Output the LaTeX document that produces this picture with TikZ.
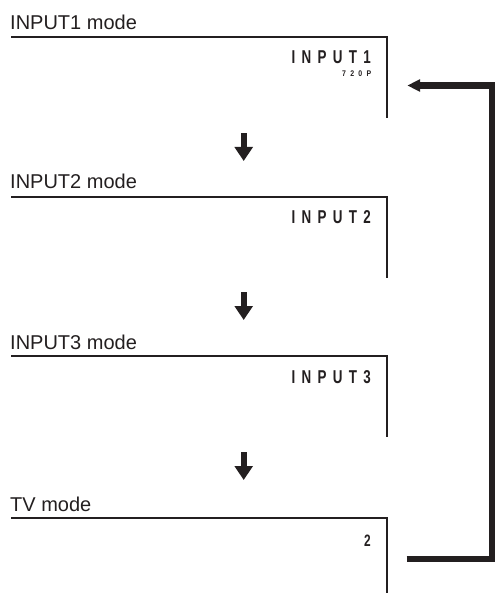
\documentclass[tikz,border=0pt]{standalone}
\usepackage{fontspec}
\setmainfont{Liberation Sans}
\newfontfamily\dispfont{Liberation Sans}[FakeStretch=0.72,LetterSpace=34]
\newfontfamily\subfont{Liberation Sans}[FakeStretch=0.85,LetterSpace=52]
\usetikzlibrary{arrows.meta}
\definecolor{ink}{RGB}{35,31,32}
\begin{document}
\begin{tikzpicture}[x=1pt,y=-1pt,
  frame/.style={draw=ink,line width=2pt},
  modelabel/.style={anchor=base west,inner sep=0pt,text=ink,font=\fontsize{20}{21}\selectfont},
  disp/.style={anchor=base east,inner sep=0pt,text=ink,font=\dispfont\bfseries\fontsize{18.6}{19}\selectfont},
  dispsub/.style={anchor=base east,inner sep=0pt,text=ink,font=\subfont\bfseries\fontsize{8.2}{9}\selectfont},
  chan/.style={anchor=base east,inner sep=0pt,text=ink,font=\dispfont\bfseries\fontsize{16.5}{17}\selectfont},
  nextarrow/.style={draw=ink,line width=6pt,-{Triangle[length=14pt,width=17.7pt]}},
  backarrow/.style={draw=ink,line width=6.4pt,-{Triangle[length=12.7pt,width=11.7pt]}}]
\useasboundingbox (0,0) rectangle (495,593);

% frames
\draw[frame] (11,37) -- (386.7,37) -- (386.7,118.3);
\draw[frame] (11,197) -- (386.7,197) -- (386.7,277.7);
\draw[frame] (11,356) -- (386.7,356) -- (386.7,436.7);
\draw[frame] (11,517.6) -- (386.7,517.6) -- (386.7,594);

% labels
\node[modelabel] (l1) at (10,29.3) {INPUT1 mode};
\node[modelabel] (l2) at (10,188.3) {INPUT2 mode};
\node[modelabel] (l3) at (10,349) {INPUT3 mode};
\node[modelabel] (l4) at (10,511) {TV mode};

% display texts
\node[disp] (d1) at (371,63.3) {INPUT1};
\node[dispsub] (d1s) at (371.4,76.6) {720P};
\node[disp] (d2) at (371,224) {INPUT2};
\node[disp] (d3) at (371,383.3) {INPUT3};
\node[chan] (d4) at (370.8,546) {2};

% step arrows
\coordinate (a1s) at (243.7,133.3); \coordinate (a1e) at (243.7,161);
\coordinate (a2s) at (243.7,292);   \coordinate (a2e) at (243.7,320);
\coordinate (a3s) at (243.7,452);   \coordinate (a3e) at (243.7,480);
\draw[nextarrow] (a1s) -- (a1e);
\draw[nextarrow] (a2s) -- (a2e);
\draw[nextarrow] (a3s) -- (a3e);

% return arrow
\coordinate (rs) at (406.7,558.7);
\coordinate (rc) at (492.2,85.5);
\coordinate (re) at (407.3,85.5);
\draw[backarrow,line join=miter] (rs) -| (rc) -- (re);
\end{tikzpicture}
\end{document}
